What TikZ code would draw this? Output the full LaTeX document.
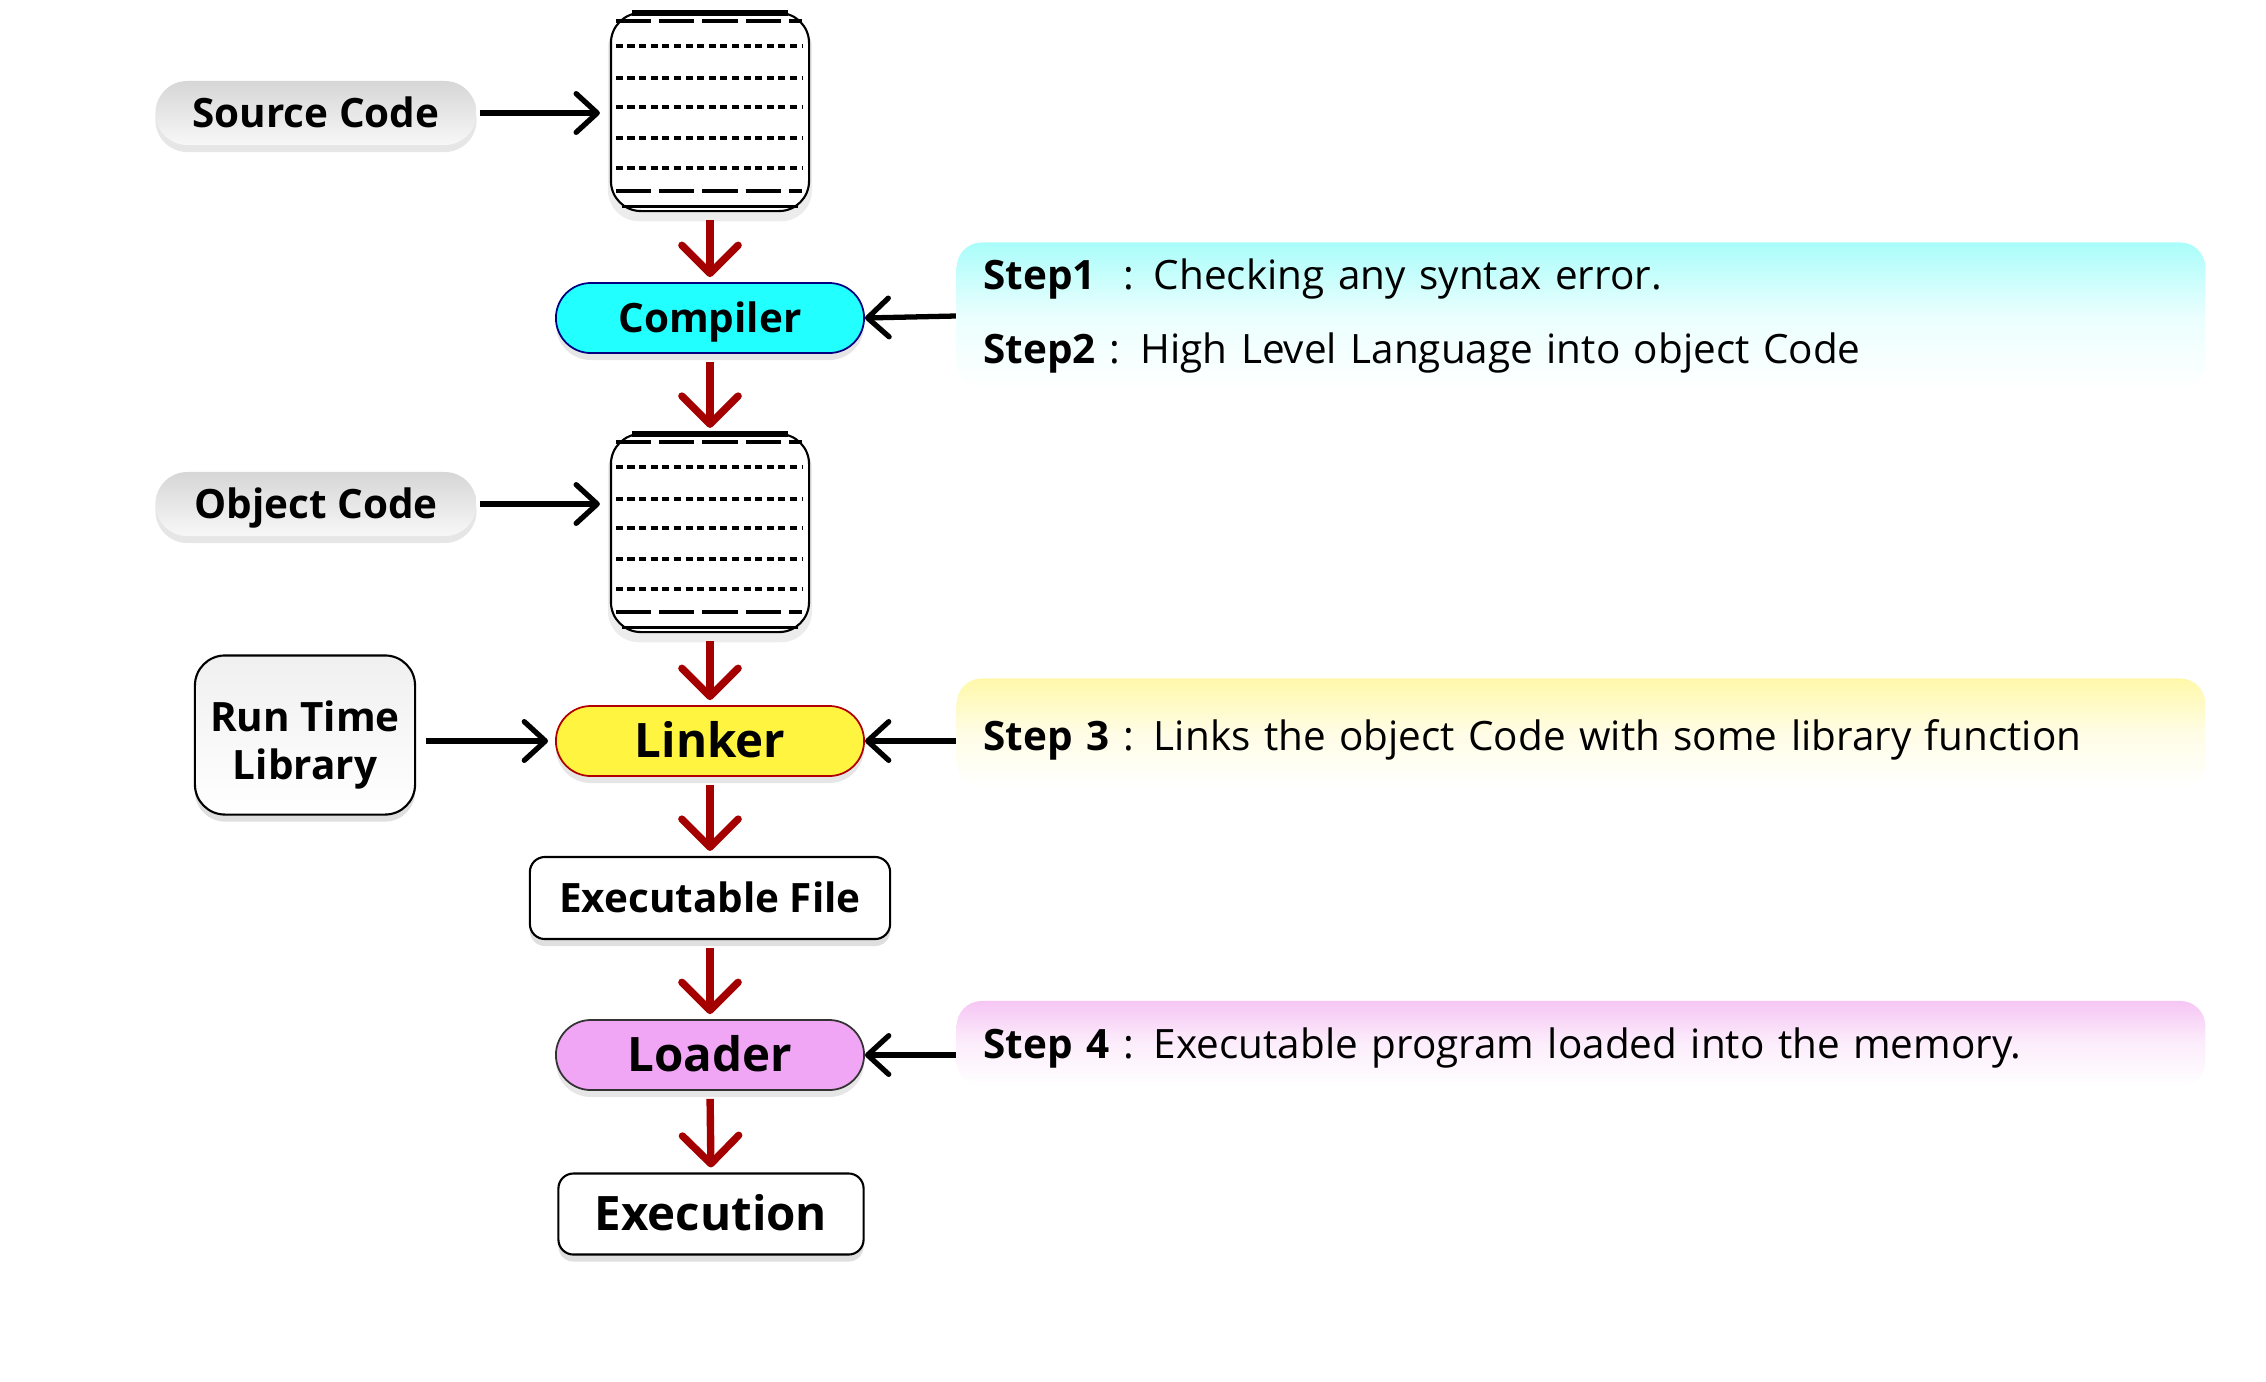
\documentclass[tikz,border=0pt]{standalone}
\usepackage{fontspec}
\setmainfont{Open Sans}
\usetikzlibrary{arrows.meta,shadows}

\definecolor{compcyan}{RGB}{34,255,255}
\definecolor{linkyellow}{RGB}{255,245,65}
\definecolor{loadviolet}{RGB}{240,165,245}
\definecolor{flowred}{RGB}{165,0,0}
\definecolor{stepcyan}{RGB}{170,253,250}
\definecolor{stepyellow}{RGB}{255,248,170}
\definecolor{steppink}{RGB}{246,198,244}

\begin{document}
\begin{tikzpicture}[x=0.01cm, y=-0.01cm,
    small/.style={font=\bfseries\fontsize{11.5}{13}\selectfont, text height=10.2pt, text depth=2pt},
    big/.style={font=\bfseries\fontsize{13.5}{15}\selectfont, text height=11.6pt, text depth=2pt},
    pill/.style={small, rounded corners=0.32cm, minimum width=3.21cm, minimum height=0.64cm, inner sep=0pt,
        top color=black!16, bottom color=black!3,
        drop shadow={opacity=0.2, shadow xshift=0pt, shadow yshift=-2pt}},
    stage/.style={draw, rounded corners=0.35cm, minimum width=3.08cm, minimum height=0.70cm, inner sep=0pt,
        line width=0.5pt, drop shadow={opacity=0.2, shadow xshift=0pt, shadow yshift=-2pt}},
    plain/.style={draw, rounded corners=0.15cm, fill=white, inner sep=0pt, line width=0.6pt,
        drop shadow={opacity=0.25, shadow xshift=0pt, shadow yshift=-2pt}},
    docbox/.style={draw, rounded corners=0.3cm, fill=white, minimum width=1.98cm, minimum height=1.98cm,
        inner sep=0pt, line width=0.6pt, drop shadow={opacity=0.15, shadow xshift=0pt, shadow yshift=-2pt, shadow scale=1.03}},
    longdash/.style={line width=1pt, dash pattern=on 10pt off 2.3pt},
    shortdash/.style={line width=1pt, dash pattern=on 2pt off 1.3pt},
    stepbox/.style={rounded corners=0.25cm, text width=11.94cm, inner xsep=0.27cm, align=left,
        font=\fontsize{11.5}{20.8}\selectfont},
    flow/.style={draw=flowred, line width=2.1pt, -{Straight Barb[length=8pt,width=16pt,round]},
        shorten <=0.08cm, shorten >=0.05cm},
    feed/.style={draw, line width=1.5pt, -{Straight Barb[length=6pt,width=11pt,round]}}
]
    \useasboundingbox (0,0) rectangle (2266,1381);

    % Eingaben links
    \node[pill] (src) at (316,113) {Source Code};
    \node[pill] (obj) at (316,504) {Object Code};
    \node[plain, rounded corners=0.3cm, top color=black!6, bottom color=white, minimum width=2.2cm, minimum height=1.59cm,
        font=\bfseries\fontsize{11.5}{13.6}\selectfont] (rtl) at (305,735)
        {\raisebox{-6pt}[0pt][0pt]{\begin{tabular}{@{}c@{}}Run Time\\Library\end{tabular}}};

    % Programmdateien
    \node[docbox] (doc1) at (710,112) {};
    \node[docbox] (doc2) at (710,533) {};
    \foreach \doc in {doc1,doc2} {
        \draw[line width=1.6pt] ([shift={(22,1)}]\doc.north west) -- ([shift={(-22,1)}]\doc.north east);
        \draw[longdash] ([shift={(6,9)}]\doc.north west) -- ([shift={(-8,9)}]\doc.north east);
        \foreach \yy in {34,66,95,126,156}
            \draw[shortdash] ([shift={(6,\yy)}]\doc.north west) -- ([shift={(-8,\yy)}]\doc.north east);
        \draw[longdash] ([shift={(6,179)}]\doc.north west) -- ([shift={(-8,179)}]\doc.north east);
        \draw[line width=0.9pt] ([shift={(12,195)}]\doc.north west) -- ([shift={(-12,195)}]\doc.north east);
    }

    % Stufen
    \node[stage, small, fill=compcyan, draw=blue!50!black] (comp) at (710,318) {Compiler};
    \node[stage, big, fill=linkyellow, draw=red!70!black] (linker) at (710,741) {Linker};
    \node[plain, small, minimum width=3.6cm, minimum height=0.82cm] (exe) at (710,898) {Executable File};
    \node[stage, big, fill=loadviolet, draw=black!80] (loader) at (710,1055) {Loader};
    \node[plain, big, minimum width=3.05cm, minimum height=0.81cm] (run) at (711,1214) {Execution};

    % Erklaerungen rechts
    \node[stepbox, top color=stepcyan, bottom color=white, middle color=stepcyan!25, minimum height=1.47cm] (step12) at (1581,316)
        {\textbf{Step1}\ \ : Checking any syntax error.\\\textbf{Step2} : High Level Language into object Code};
    \node[stepbox, top color=stepyellow, bottom color=white, middle color=stepyellow!30, minimum height=1.09cm,
        text height=10.2pt, text depth=0.2pt] (step3) at (1581,733)
        {\textbf{Step 3} : Links the object Code with some library function};
    \node[stepbox, top color=steppink, bottom color=white, middle color=steppink!30, minimum height=0.86cm,
        text height=10.2pt, text depth=2pt] (step4) at (1581,1044)
        {\textbf{Step 4} : Executable program loaded into the memory.};

    % Hauptfluss
    \draw[flow] (doc1.south) -- (comp.north);
    \draw[flow] (comp.south) -- (doc2.north);
    \draw[flow] (doc2.south) -- (linker.north);
    \draw[flow] (linker.south) -- (exe.north);
    \draw[flow] (exe.south) -- (loader.north);
    \draw[flow] (loader.south) -- (run.north);

    % Zubringer
    \draw[feed, shorten <=0.03cm, shorten >=0.1cm] (src.east) -- (src.east -| doc1.west);
    \draw[feed, shorten <=0.03cm, shorten >=0.1cm] (obj.east) -- (obj.east -| doc2.west);
    \draw[feed, shorten <=0.1cm, shorten >=0.07cm] (rtl.east |- linker.west) -- (linker.west);
    \draw[feed] (step12.west) -- (comp.east);
    \draw[feed] (step3.west |- linker.east) -- (linker.east);
    \draw[feed] (step4.west |- loader.east) -- (loader.east);
\end{tikzpicture}
\end{document}
